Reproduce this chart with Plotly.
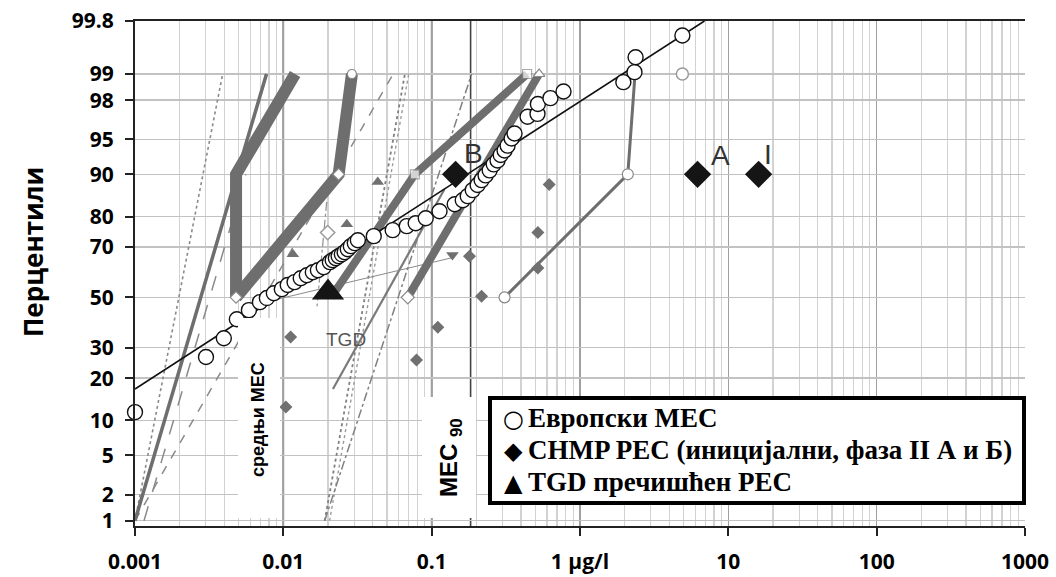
import math
from statistics import NormalDist
import plotly.graph_objects as go

_nd = NormalDist()


def probit(p):
    return _nd.inv_cdf(p / 100.0)


def pr(values):
    return [probit(v) for v in values]


# ---------------- axis ticks ----------------
Y_TICKS = [1, 2, 5, 10, 20, 30, 50, 70, 80, 90, 95, 98, 99, 99.8]
Y_TICKTEXT = ["1", "2", "5", "10", "20", "30", "50", "70", "80", "90", "95", "98", "99", "99.8"]
X_TICKS = [0.001, 0.01, 0.1, 1, 10, 100, 1000]
X_TICKTEXT = ["0.001", "0.01", "0.1", "1 µg/l", "10", "100", "1000"]

# ---------------- European MEC (open circles) ----------------
MEC_X = [0.001, 0.00301, 0.00397, 0.00486, 0.00586, 0.00695, 0.00774, 0.00863, 0.00977, 0.0107,
         0.0119, 0.0131, 0.0144, 0.0158, 0.0171, 0.0187, 0.0206, 0.0215, 0.0226, 0.0236,
         0.0248, 0.0259, 0.0272, 0.0285, 0.0303, 0.0318, 0.0407, 0.0546, 0.0679, 0.0780,
         0.0912, 0.113, 0.143, 0.162, 0.175, 0.189, 0.204, 0.217, 0.231, 0.246,
         0.262, 0.278, 0.292, 0.310, 0.325, 0.346, 0.362, 0.443, 0.517, 0.52,
         0.632, 0.774, 1.96, 2.33, 2.37, 4.90]
MEC_P = [11.6, 26.7, 33.5, 41.0, 44.7, 48.0, 49.7, 51.7, 53.4, 55.1,
         56.3, 57.9, 59.1, 60.3, 61.1, 62.3, 64.3, 65.1, 65.8, 66.6,
         67.3, 68.1, 69.2, 70.3, 71.4, 72.4, 73.8, 75.8, 77.1, 78.0,
         79.5, 81.5, 83.4, 84.4, 85.4, 86.8, 87.9, 88.9, 89.8, 90.7,
         91.7, 92.3, 93.1, 93.7, 94.3, 95.1, 95.6, 97.0, 97.2, 97.8,
         98.1, 98.4, 98.75, 99.05, 99.38, 99.68]
FIT_X = [0.001, 6.9]
FIT_P = [17.0, 99.8]

# ---------------- CHMP PEC (large black diamonds) ----------------
CHMP_X = [0.145, 6.2, 16.0]
CHMP_P = [90, 90, 90]
CHMP_LABELS = ["B", "A", "I"]

# ---------------- TGD refined PEC (large black triangle) ----------------
TGD_X = [0.02]
TGD_P = [52]

# ---------------- other substances: grey diamonds / triangles ----------------
GD_X = [0.0112, 0.0104, 0.079, 0.11, 0.18, 0.217, 0.52, 0.52, 0.62]
GD_P = [34, 12.7, 25.7, 37.8, 66.6, 50.5, 62, 75, 88]
GT_X = [0.0116, 0.0268, 0.0433]
GT_P = [67.3, 77.7, 88.5]
GTD_X = [0.138]
GTD_P = [67]
LD_X = [0.0199]
LD_P = [75]
LC_X = [4.9]
LC_P = [99]

# ---------------- scenario lines (thick grey) ----------------
S1_X = [0.0048, 0.0048, 0.012]
S1_P = [50, 90, 99]
S2_X = [0.0048, 0.0236, 0.029]
S2_P = [50, 90, 99]
S3_X = [0.021, 0.077, 0.44]
S3_P = [50, 90, 99]
S4_X = [0.069, 0.53]
S4_P = [50, 99]
S5_X = [0.31, 2.1, 2.35]
S5_P = [50, 90, 99]

# ---------------- thin grey distribution lines ----------------
T1_X = [0.001, 0.0077]
T1_P = [1, 99]
T2_X = [0.001, 0.055]
T2_P = [1, 99]
T3_X = [0.001, 0.0039]
T3_P = [1, 99]
T4_X = [0.019, 0.066]
T4_P = [1, 99]
T4B_X = [0.0205, 0.07]
T4B_P = [1, 99]
T5_X = [0.019, 0.186]
T5_P = [1, 99]
T6_X = [0.0216, 0.122]
T6_P = [17, 87]
T7_X = [0.0088, 0.137]
T7_P = [49, 66]
T8_X = [0.0196, 0.0168]
T8_P = [84, 45]
T9_X = [0.00115, 0.0056]
T9_P = [1, 90]

# reference (MEC) vertical lines
REF_X = [0.01, 0.1, 0.183]

# legend entries
LEGEND_SYMBOLS = ["○", "◆", "▲"]
LEGEND_TEXT = ["Европски MEC", "CHMP PEC (иницијални, фаза II А и Б)", "TGD пречишћен PEC"]

GREY = "#6e6e6e"
fig = go.Figure()


def thin(x, p, width, dash, color=GREY):
    fig.add_trace(go.Scatter(x=x, y=pr(p), mode="lines", showlegend=False, hoverinfo="skip",
                             line=dict(color=color, width=width, dash=dash)))


thin(T3_X, T3_P, 1.6, "dot", "#8a8a8a")
thin(T4_X, T4_P, 1.8, "dot", "#808080")
thin(T4B_X, T4B_P, 1.4, "dot", "#9a9a9a")
thin(T2_X, T2_P, 1.5, "dash", "#8a8a8a")
thin(T9_X, T9_P, 1.5, "longdash", "#8a8a8a")
thin(T5_X, T5_P, 1.5, "dashdot", "#808080")
thin(T8_X, T8_P, 1.2, "dashdot", "#909090")
thin(T1_X, T1_P, 3.5, "solid")
thin(T6_X, T6_P, 2.2, "solid", "#7a7a7a")
thin(T7_X, T7_P, 1.0, "solid", "#8a8a8a")

# thick scenario lines
fig.add_trace(go.Scatter(x=S1_X, y=pr(S1_P), mode="lines", showlegend=False, hoverinfo="skip",
                         line=dict(color=GREY, width=12)))
fig.add_trace(go.Scatter(x=S2_X, y=pr(S2_P), mode="lines+markers", showlegend=False, hoverinfo="skip",
                         line=dict(color=GREY, width=12),
                         marker=dict(symbol=["diamond", "diamond", "circle"], size=9, color="white",
                                     line=dict(color="#888", width=1.2))))
fig.add_trace(go.Scatter(x=S3_X, y=pr(S3_P), mode="lines+markers", showlegend=False, hoverinfo="skip",
                         line=dict(color=GREY, width=8),
                         marker=dict(symbol="square", size=[0, 9, 9], color="white",
                                     line=dict(color="#888", width=1.2))))
fig.add_trace(go.Scatter(x=S4_X, y=pr(S4_P), mode="lines+markers", showlegend=False, hoverinfo="skip",
                         line=dict(color=GREY, width=8),
                         marker=dict(symbol=["diamond", "triangle-up"], size=10, color="white",
                                     line=dict(color="#888", width=1.2))))
fig.add_trace(go.Scatter(x=S5_X, y=pr(S5_P), mode="lines+markers", showlegend=False, hoverinfo="skip",
                         line=dict(color=GREY, width=3),
                         marker=dict(symbol="circle", size=11, color="white",
                                     line=dict(color="#888", width=1.2))))

# small grey markers
fig.add_trace(go.Scatter(x=GD_X, y=pr(GD_P), mode="markers", showlegend=False, hoverinfo="skip",
                         marker=dict(symbol="diamond", size=10, color="#707070")))
fig.add_trace(go.Scatter(x=GT_X, y=pr(GT_P), mode="markers", showlegend=False, hoverinfo="skip",
                         marker=dict(symbol="triangle-up", size=11, color="#707070")))
fig.add_trace(go.Scatter(x=GTD_X, y=pr(GTD_P), mode="markers", showlegend=False, hoverinfo="skip",
                         marker=dict(symbol="triangle-down", size=11, color="#707070")))
fig.add_trace(go.Scatter(x=LD_X, y=pr(LD_P), mode="markers", showlegend=False, hoverinfo="skip",
                         marker=dict(symbol="diamond", size=11, color="white",
                                     line=dict(color="#9a9a9a", width=1.5))))
fig.add_trace(go.Scatter(x=LC_X, y=pr(LC_P), mode="markers", showlegend=False, hoverinfo="skip",
                         marker=dict(symbol="circle", size=12, color="white",
                                     line=dict(color="#9a9a9a", width=1.5))))

# European MEC fit line + circles
fig.add_trace(go.Scatter(x=FIT_X, y=pr(FIT_P), mode="lines", showlegend=False, hoverinfo="skip",
                         line=dict(color="#111", width=1.6)))
fig.add_trace(go.Scatter(x=MEC_X, y=pr(MEC_P), mode="markers", name=LEGEND_TEXT[0],
                         cliponaxis=False, showlegend=False,
                         marker=dict(symbol="circle", size=15, color="white",
                                     line=dict(color="#111", width=1.4))))
fig.add_trace(go.Scatter(x=CHMP_X, y=pr(CHMP_P), mode="markers", name=LEGEND_TEXT[1], showlegend=False,
                         marker=dict(symbol="diamond", size=21, color="#151515")))
fig.add_trace(go.Scatter(x=TGD_X, y=pr(TGD_P), mode="markers", name=LEGEND_TEXT[2], showlegend=False,
                         marker=dict(symbol="triangle-up", size=28, color="#151515")))

# ---------------- layout geometry ----------------
W, H = 1056, 577
ML, MR, MT, MB = 135, 31, 21, 51
PW, PH = W - ML - MR, H - MT - MB


def px(xs):
    return (xs - ML) / PW


def py(ys):
    return (H - MB - ys) / PH


shapes = []
for rx in REF_X:
    shapes.append(dict(type="line", xref="x", yref="paper", x0=rx, x1=rx, y0=0, y1=1,
                       line=dict(color="#444", width=1.6), layer="between"))
# white label boxes
shapes.append(dict(type="rect", xref="paper", yref="paper", x0=px(238), x1=px(280), y0=py(518), y1=py(318),
                   fillcolor="white", line=dict(width=0), layer="above"))
shapes.append(dict(type="rect", xref="paper", yref="paper", x0=px(422), x1=px(476), y0=py(518), y1=py(397),
                   fillcolor="white", line=dict(width=0), layer="above"))
# legend box
shapes.append(dict(type="rect", xref="paper", yref="paper", x0=px(490), x1=px(1024), y0=py(503), y1=py(398),
                   fillcolor="white", line=dict(color="black", width=4), layer="above"))

annotations = [
    dict(text="Перцентили", xref="paper", yref="paper", x=px(33), y=py(252), textangle=-90,
         showarrow=False, xanchor="center", yanchor="middle",
         font=dict(family="Open Sans", size=26, color="black", weight="bold")),
    dict(text="средњи MEC", xref="paper", yref="paper", x=px(258), y=py(420), textangle=-90,
         showarrow=False, xanchor="center", yanchor="middle",
         font=dict(family="Liberation Sans", size=18, color="black", weight="bold")),
    dict(text="MEC <sub>90</sub>", xref="paper", yref="paper", x=px(450), y=py(458), textangle=-90,
         showarrow=False, xanchor="center", yanchor="middle",
         font=dict(family="Liberation Sans", size=24, color="black", weight="bold")),
    dict(text="TGD", xref="x", yref="y", x=math.log10(TGD_X[0]), y=probit(TGD_P[0]),
         xshift=18, yshift=-47, showarrow=False,
         font=dict(family="Liberation Sans", size=19, color="#555")),
]
label_shift = [(18, 21), (23, 19), (9, 20)]
for i, lab in enumerate(CHMP_LABELS):
    annotations.append(dict(text=lab, xref="x", yref="y", x=math.log10(CHMP_X[i]), y=probit(CHMP_P[i]),
                            xshift=label_shift[i][0], yshift=label_shift[i][1], showarrow=False,
                            font=dict(family="Liberation Sans", size=28, color="#333")))

# legend rows
ROW_Y = [418, 450, 482]
for sym, txt, ry in zip(LEGEND_SYMBOLS, LEGEND_TEXT, ROW_Y):
    annotations.append(dict(text=sym, xref="paper", yref="paper", x=px(513), y=py(ry + 1),
                            xanchor="center", yanchor="middle", showarrow=False,
                            font=dict(family="DejaVu Sans", size=24, color="black")))
    annotations.append(dict(text=txt, xref="paper", yref="paper", x=px(526), y=py(ry),
                            xanchor="left", yanchor="middle", showarrow=False,
                            font=dict(family="Liberation Serif", size=27, color="black", weight="bold")))

X_MINOR = [m * 10 ** e for e in range(-3, 3) for m in range(2, 10)]
TICKFONT = dict(family="Open Sans", size=21, color="black", weight="bold")

fig.update_layout(
    width=W, height=H,
    margin=dict(l=ML, r=MR, t=MT, b=MB, pad=0, autoexpand=False),
    paper_bgcolor="white", plot_bgcolor="white",
    xaxis=dict(type="log", range=[-3, 3], tickmode="array", tickvals=X_TICKS, ticktext=X_TICKTEXT,
               showgrid=True, gridcolor="#a0a0a0", gridwidth=1.5,
               minor=dict(tickmode="array", tickvals=X_MINOR, showgrid=True, gridcolor="#d2d2d2",
                          gridwidth=1.2, ticks=""),
               showline=True, linecolor="#222", linewidth=2, mirror=True,
               ticks="outside", ticklen=8, tickwidth=2, tickcolor="#222",
               tickfont=TICKFONT, ticklabelstandoff=8, zeroline=False,
               automargin=False, ticklabeloverflow="allow"),
    yaxis=dict(range=[probit(1) - 0.055, probit(99.8) + 1e-9], tickmode="array", tickvals=pr(Y_TICKS),
               ticktext=Y_TICKTEXT, showgrid=True, gridcolor="#c2c2c2", gridwidth=1.5,
               zeroline=False, showline=True, linecolor="#222", linewidth=2,
               ticks="outside", ticklen=8, tickwidth=2, tickcolor="#222",
               tickfont=TICKFONT, ticklabelstandoff=7,
               automargin=False, ticklabeloverflow="allow"),
    showlegend=False,
    shapes=shapes,
    annotations=annotations,
)

# remove the browser's default 8px body margin so the figure fills the window exactly
fig.write_html("out.html", config={"displayModeBar": False, "staticPlot": True},
               post_script="document.body.style.margin='0px';")
